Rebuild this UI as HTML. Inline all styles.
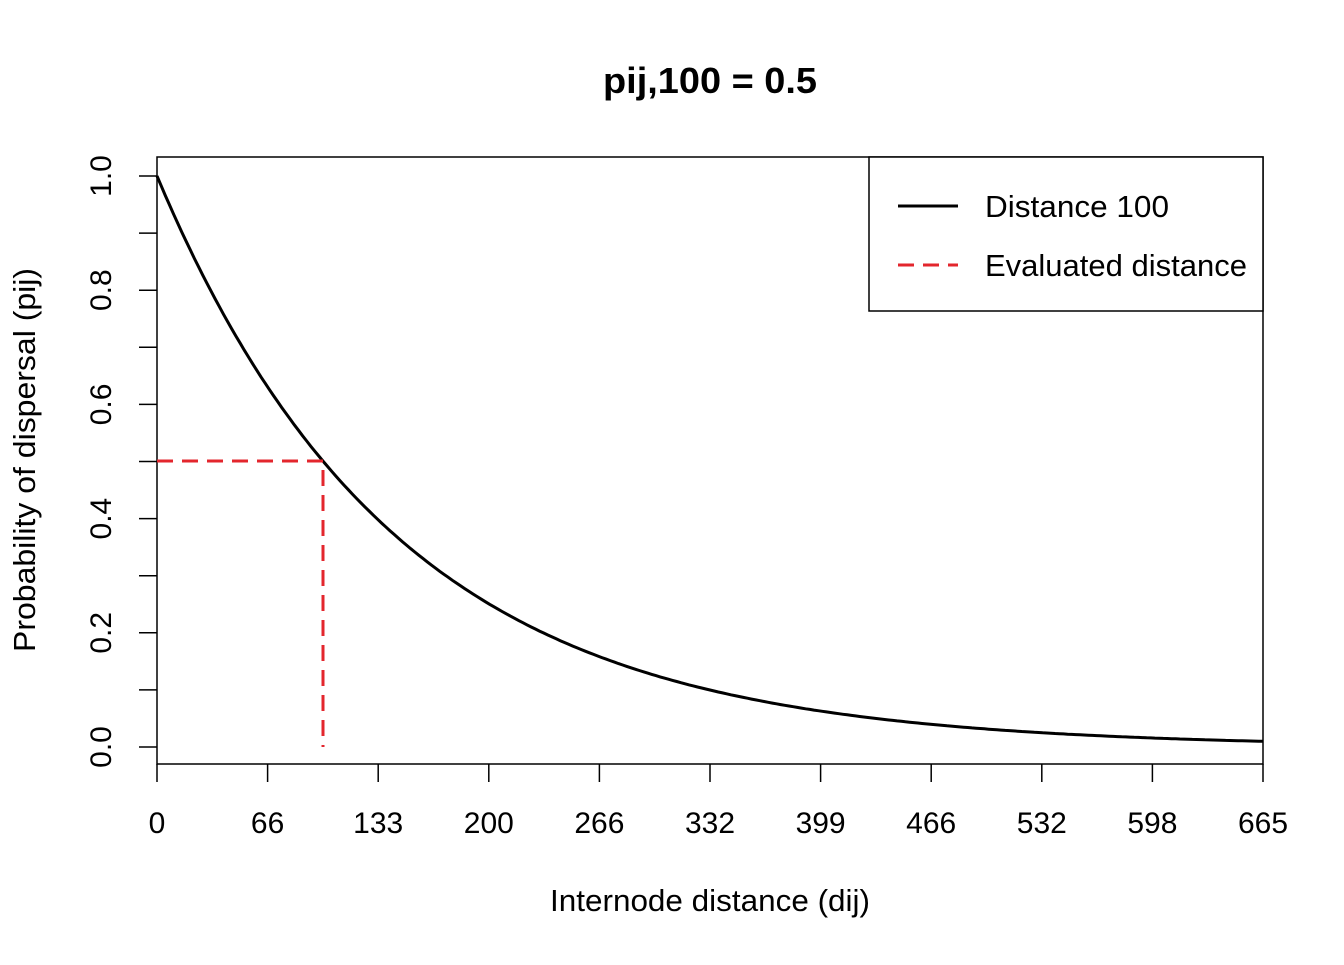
<!DOCTYPE html>
<html><head><meta charset="utf-8"><style>
html,body{margin:0;padding:0;background:#fff;}
svg text{font-family:"Liberation Sans",Arial,sans-serif;fill:#000;}
</style></head><body>
<svg id="s" width="1344" height="960" viewBox="0 0 1344 960" xmlns="http://www.w3.org/2000/svg">
<rect width="1344" height="960" fill="#fff"/>
<text x="710" y="93" font-size="36" font-weight="bold" text-anchor="middle" textLength="214" lengthAdjust="spacingAndGlyphs">pij,100 = 0.5</text>
<rect x="157" y="157" width="1106" height="607" fill="none" stroke="#000" stroke-width="1.5"/>
<g id="xt" stroke="#000" stroke-width="1.5"></g>
<g id="xl" font-size="30" text-anchor="middle"></g>
<g id="yt" stroke="#000" stroke-width="1.5"></g>
<g id="yl" font-size="30" text-anchor="middle"></g>
<text x="710" y="911" font-size="31" text-anchor="middle" textLength="320" lengthAdjust="spacingAndGlyphs">Internode distance (dij)</text>
<text transform="translate(35,460) rotate(-90)" font-size="31" text-anchor="middle" textLength="384" lengthAdjust="spacingAndGlyphs">Probability of dispersal (pij)</text>
<path id="curve" fill="none" stroke="#000" stroke-width="3"/>
<path d="M157,461 L323,461 L323,747" fill="none" stroke="#e3262d" stroke-width="3" stroke-dasharray="16,9"/>
<rect x="869" y="157" width="394" height="154" fill="#fff" stroke="#000" stroke-width="1.5"/>
<line x1="898" y1="206" x2="958" y2="206" stroke="#000" stroke-width="3"/>
<line x1="898" y1="265" x2="958" y2="265" stroke="#e3262d" stroke-width="3" stroke-dasharray="16,9"/>
<text x="985" y="217" font-size="31" textLength="184" lengthAdjust="spacingAndGlyphs">Distance 100</text>
<text x="985" y="276" font-size="31" textLength="262" lengthAdjust="spacingAndGlyphs">Evaluated distance</text>
</svg>
<script>
var ns="http://www.w3.org/2000/svg";
function el(p,t,a,txt){var e=document.createElementNS(ns,t);for(var k in a)e.setAttribute(k,a[k]);if(txt!=null)e.textContent=txt;document.getElementById(p).appendChild(e);}
var labs=[0,66,133,200,266,332,399,466,532,598,665];
for(var i=0;i<=10;i++){var x=157+i*110.6;el("xt","line",{x1:x,y1:764,x2:x,y2:782});el("xl","text",{x:x,y:833},labs[i]);}
for(var j=0;j<=10;j++){var y=747-j*57.1;el("yt","line",{x1:157,y1:y,x2:139,y2:y});
 if(j%2==0){var t=(j/10).toFixed(1);el("yl","text",{transform:"translate(111,"+y+") rotate(-90)"},t);}}
var d="";for(var k=0;k<=665;k+=2.5){var px=157+k*1106/665,py=747-571*Math.pow(0.5,k/100);d+=(k?"L":"M")+px.toFixed(1)+","+py.toFixed(1);}
document.getElementById("curve").setAttribute("d",d);
</script>
</body></html>
